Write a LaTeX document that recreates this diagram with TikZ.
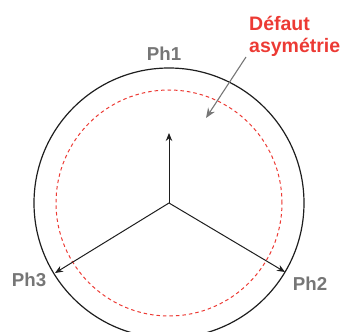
\documentclass[tikz,border=0pt]{standalone}
\usepackage{fontspec}
\setmainfont{Liberation Sans}
\usetikzlibrary{arrows.meta}
\definecolor{rouge}{RGB}{236,58,52}
\definecolor{gris}{RGB}{118,118,118}
\definecolor{noir}{RGB}{30,30,30}
\tikzset{
  phase/.style={text=gris, inner sep=0pt, font=\bfseries\fontsize{18.7}{22}\selectfont},
  vecteur/.style={->, draw=noir, line width=1pt},
}
\begin{document}
\begin{tikzpicture}[x=1pt, y=-1pt, >={Stealth[length=8pt,width=6.5pt]}]
\useasboundingbox (0,0) rectangle (341,332);
% cercles
\draw[line width=1.2pt, noir] (169,203) circle (135pt);
\draw[line width=1pt, rouge, dash pattern=on 3.5pt off 3pt] (169,203) circle (113pt);
% vecteurs
\coordinate (o) at (169,203);
\coordinate (p1) at (169,133);
\coordinate (p2) at (285,272);
\coordinate (p3) at (55,273);
\draw[vecteur] (o) -- (p1);
\draw[vecteur] (o) -- (p2);
\draw[vecteur] (o) -- (p3);
% phases
\node[phase, anchor=base] (ph1) at (164,60) {Ph1};
\node[phase, anchor=base] (ph2) at (310,290) {Ph2};
\node[phase, anchor=base] (ph3) at (29,287) {Ph3};
% defaut
\node[text=rouge, inner sep=0pt, align=left, anchor=north west,
  font=\bfseries\fontsize{19.5}{22}\selectfont] (defaut) at (249,16) {Défaut\\asymétrie};
\coordinate (depart) at (246,57);
\coordinate (cible) at (206,118);
\draw[->, gris, line width=1.1pt, >={Stealth[length=10pt,width=8pt]}] (depart) -- (cible);
\end{tikzpicture}
\end{document}
